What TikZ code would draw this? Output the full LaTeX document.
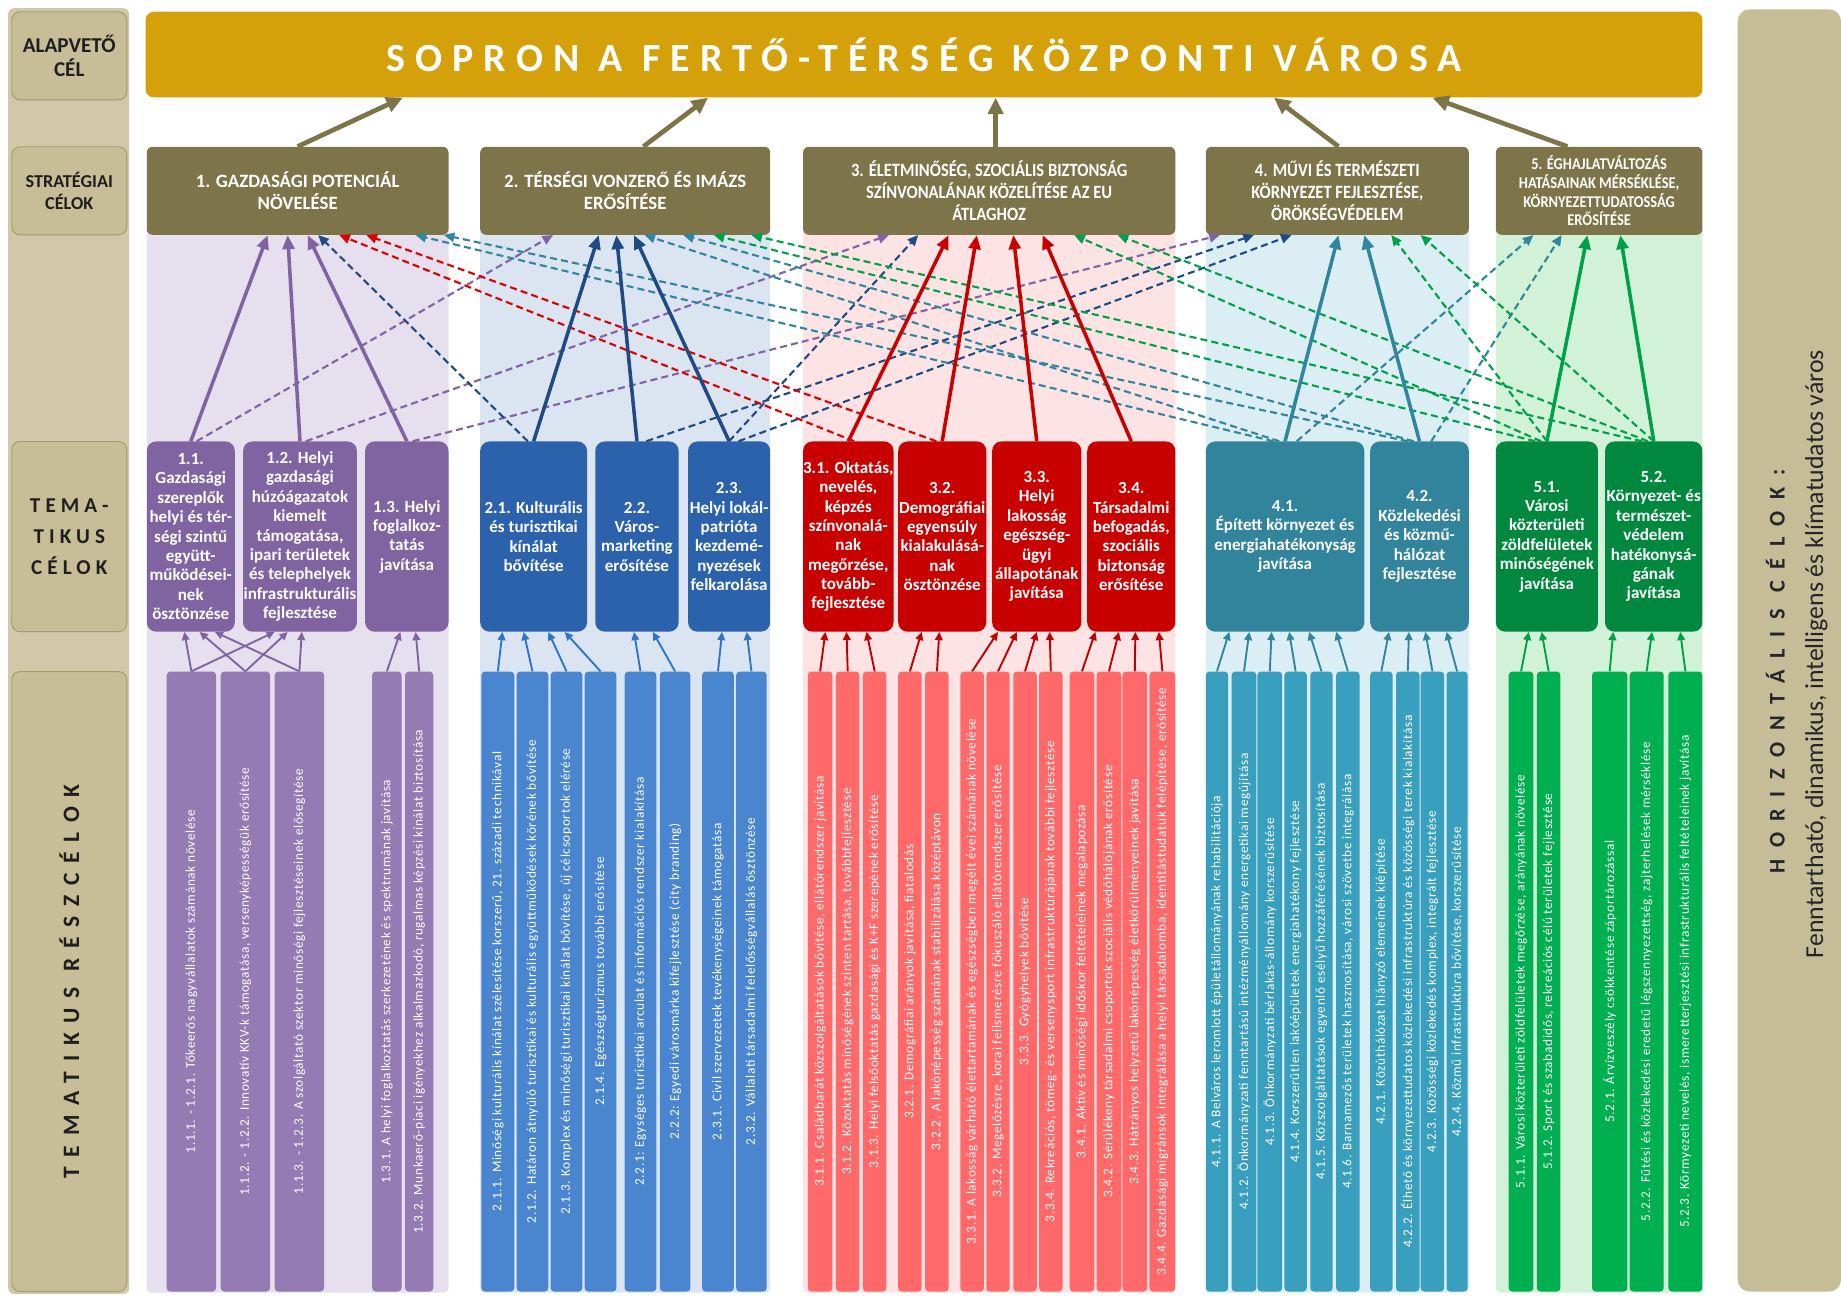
\documentclass[tikz,border=0pt]{standalone}
\usepackage{fontspec}
\usepackage{graphicx}
\setmainfont{Carlito}
\newfontfamily\condfam[FakeStretch=0.88]{Carlito}
\newfontfamily\titlefam[LetterSpace=25.5]{Carlito}
\newfontfamily\lsfam[LetterSpace=24]{Carlito}
\newfontfamily\rszfam[LetterSpace=42]{Carlito}
\newfontfamily\horfam[LetterSpace=52]{Carlito}
\newfontfamily\barfam[LetterSpace=5]{Carlito}
\usetikzlibrary{arrows.meta}

\definecolor{titlec}{HTML}{D4A10A}
\definecolor{stratc}{HTML}{7E7449}
\definecolor{stripc}{HTML}{D0C8A8}
\definecolor{lboxc}{HTML}{C7BD97}
\definecolor{lboxb}{HTML}{A59A6B}
\definecolor{rpanc}{HTML}{C5BC98}
\definecolor{cbP}{HTML}{E5DFEE}
\definecolor{cbB}{HTML}{DBE5F1}
\definecolor{cbR}{HTML}{FDE3E3}
\definecolor{cbT}{HTML}{DAEEF3}
\definecolor{cbG}{HTML}{D2F2D8}
\definecolor{thP}{HTML}{8064A2}
\definecolor{thB}{HTML}{2B62AB}
\definecolor{thR}{HTML}{C80000}
\definecolor{thT}{HTML}{31849B}
\definecolor{thG}{HTML}{00883F}
\definecolor{barP}{HTML}{957BB3}
\definecolor{barB}{HTML}{4A86CF}
\definecolor{barR}{HTML}{FF6969}
\definecolor{barT}{HTML}{38A0BE}
\definecolor{barG}{HTML}{00B050}
\definecolor{arP}{HTML}{8064A2}
\definecolor{arB}{HTML}{1F4A82}
\definecolor{arR}{HTML}{DD0000}
\definecolor{arT}{HTML}{31859C}
\definecolor{arG}{HTML}{00A04A}
\definecolor{smB}{HTML}{2E75C9}
\definecolor{smR}{HTML}{C00000}

\newsavebox\bbox
\newcommand\bartxt[1]{\sbox\bbox{\barfam\fontsize{11.3}{12}\selectfont #1}\ifdim\wd\bbox>505pt\resizebox{505pt}{!}{\usebox\bbox}\else\usebox\bbox\fi}
\newcommand\sbar[5]{\node[sbarbox,fill=#4,minimum width={#3-#2}] (#1) at ({(#2+#3)/2},836) {};
 \node[text=white,rotate=90,inner sep=0pt] at (#1.center) {\bartxt{#5}};}
\newcommand\sarr[4]{\draw[smallarr,draw=#1] (#2.north) -- ([xshift=#4pt]#3.south);}
\newcommand\barr[5]{\draw[#1] ([xshift=#3pt]#2.north) -- ([xshift=#5pt]#4.south);}

\tikzset{
  sbarbox/.style={rectangle,rounded corners=3pt,minimum height=528,inner sep=0pt},
  lbox/.style={draw=lboxb,line width=0.8pt,fill=lboxc,rounded corners=7pt,minimum width=98,align=center,text=black!88,inner sep=0pt},
  strat/.style={fill=stratc,rounded corners=5pt,text=white,align=center,minimum height=75,inner sep=0pt,font=\bfseries\fontsize{16}{19}\selectfont},
  them/.style={rounded corners=8pt,text=white,align=center,minimum height=162,inner sep=0pt,font=\bfseries\fontsize{14.5}{16.5}\selectfont},
  smallarr/.style={line width=1.6pt,-{Triangle[length=7pt,width=6.5pt]}},
  sol/.style={line width=3pt,draw=#1,-{Triangle[length=12pt,width=10pt]}},
  dsh/.style={line width=1.8pt,draw=#1,dash pattern=on 6pt off 3.5pt,-{Triangle[length=9pt,width=8pt]}},
  titlearr/.style={line width=4pt,draw=stratc,-{Triangle[length=14pt,width=13pt]}}
}

\begin{document}
\begin{tikzpicture}[x=1pt,y=-1pt]
\useasboundingbox (0,0) rectangle (1568,1103);
\fill[white] (0,0) rectangle (1568,1103);

% left strip
\fill[stripc,rounded corners=5pt] (7,7) rectangle (110,1102);
\node[lbox,minimum height=75,font=\bfseries\fontsize{18}{21}\selectfont] (LA) at (59,47.5) {ALAPVETŐ\\CÉL};
\node[lbox,minimum height=75,font=\bfseries\fontsize{15.5}{19}\selectfont] (LS) at (59,162.5) {STRATÉGIAI\\CÉLOK};
\node[lbox,minimum height=162,font=\lsfam\bfseries\fontsize{18}{26.5}\selectfont] (LT) at (59,457) {TEMA-\\TIKUS\\CÉLOK};
\node[lbox,minimum height=528] (LR) at (59,836) {};
\node[rotate=90,text=black!88,inner sep=0pt] at (LR.center) {\rszfam\bfseries\fontsize{20}{24}\selectfont TEMATIKUS RÉSZCÉLOK};

% right panel
\node[fill=rpanc,rounded corners=10pt,minimum width=88,minimum height=1092,inner sep=0pt] (HP) at (1524,554) {};
\node[rotate=90,text=black!85,inner sep=0pt] at ([xshift=-12pt,yshift=-18pt]HP.center) {\horfam\bfseries\fontsize{19}{22}\selectfont HORIZONTÁLIS CÉLOK:};
\node[rotate=90,text=black!85,inner sep=0pt] at ([xshift=23pt,yshift=-3pt]HP.center) {\fontsize{22}{26}\selectfont Fenntartható, dinamikus, intelligens és klímatudatos város};

% column backgrounds
\fill[cbP,rounded corners=4pt] (125,190) rectangle (382,1101);
\fill[cbB,rounded corners=4pt] (409,190) rectangle (656,1101);
\fill[cbR,rounded corners=4pt] (684,190) rectangle (1001,1101);
\fill[cbT,rounded corners=4pt] (1027,190) rectangle (1251,1101);
\fill[cbG,rounded corners=4pt] (1274,190) rectangle (1450,1101);

% title
\node[fill=titlec,rounded corners=7pt,minimum width=1326,minimum height=73,inner sep=0pt,text=white] (TT) at (787,46.5) {\titlefam\bfseries\fontsize{34}{40}\selectfont SOPRON A FERTŐ-TÉRSÉG KÖZPONTI VÁROSA};

% strategic goals
\node[strat,minimum width=257] (S1) at (253.5,162.5) {1. GAZDASÁGI POTENCIÁL\\NÖVELÉSE};
\node[strat,minimum width=247] (S2) at (532.5,162.5) {2. TÉRSÉGI VONZERŐ ÉS IMÁZS\\ERŐSÍTÉSE};
\node[strat,minimum width=317,font=\condfam\bfseries\fontsize{16}{19}\selectfont] (S3) at (842.5,162.5) {3. ÉLETMINŐSÉG, SZOCIÁLIS BIZTONSÁG\\SZÍNVONALÁNAK KÖZELÍTÉSE AZ EU\\ÁTLAGHOZ};
\node[strat,minimum width=224,font=\condfam\bfseries\fontsize{16}{19}\selectfont] (S4) at (1139,162.5) {4. MŰVI ÉS TERMÉSZETI\\KÖRNYEZET FEJLESZTÉSE,\\ÖRÖKSÉGVÉDELEM};
\node[strat,minimum width=176,font=\condfam\bfseries\fontsize{14}{16}\selectfont] (S5) at (1362,162.5) {5. ÉGHAJLATVÁLTOZÁS\\HATÁSAINAK MÉRSÉKLÉSE,\\KÖRNYEZETTUDATOSSÁG\\ERŐSÍTÉSE};

% thematic goals
\node[them,fill=thP,minimum width=75] (T11) at (162.5,457) {1.1.\\Gazdasági\\szereplők\\helyi és tér-\\ségi szintű\\együtt-\\működései-\\nek\\ösztönzése};
\node[them,fill=thP,minimum width=97] (T12) at (255.5,457) {1.2. Helyi\\gazdasági\\húzóágazatok\\kiemelt\\támogatása,\\ipari területek\\és telephelyek\\infrastrukturális\\fejlesztése};
\node[them,fill=thP,minimum width=71] (T13) at (346.5,457) {1.3. Helyi\\foglalkoz-\\tatás\\javítása};
\node[them,fill=thB,minimum width=91] (T21) at (454.5,457) {2.1. Kulturális\\és turisztikai\\kínálat\\bővítése};
\node[them,fill=thB,minimum width=71] (T22) at (542.5,457) {2.2.\\Város-\\marketing\\erősítése};
\node[them,fill=thB,minimum width=70] (T23) at (621,457) {2.3.\\Helyi lokál-\\patrióta\\kezdemé-\\nyezések\\felkarolása};
\node[them,fill=thR,minimum width=77] (T31) at (722.5,457) {3.1. Oktatás,\\nevelés,\\képzés\\színvonalá-\\nak\\megőrzése,\\tovább-\\fejlesztése};
\node[them,fill=thR,minimum width=75] (T32) at (802.5,457) {3.2.\\Demográfiai\\egyensúly\\kialakulásá-\\nak\\ösztönzése};
\node[them,fill=thR,minimum width=76] (T33) at (883,457) {3.3.\\Helyi\\lakosság\\egészség-\\ügyi\\állapotának\\javítása};
\node[them,fill=thR,minimum width=75] (T34) at (963.5,457) {3.4.\\Társadalmi\\befogadás,\\szociális\\biztonság\\erősítése};
\node[them,fill=thT,minimum width=135] (T41) at (1094.5,457) {4.1.\\Épített környezet és\\energiahatékonyság\\javítása};
\node[them,fill=thT,minimum width=84] (T42) at (1209,457) {4.2.\\Közlekedési\\és közmű-\\hálózat\\fejlesztése};
\node[them,fill=thG,minimum width=87] (T51) at (1317.5,457) {5.1.\\Városi\\közterületi\\zöldfelületek\\minőségének\\javítása};
\node[them,fill=thG,minimum width=83] (T52) at (1408.5,457) {5.2.\\Környezet- és\\természet-\\védelem\\hatékonysá-\\gának\\javítása};

% sub-goal bars
\sbar{b111}{142}{184}{barP}{1.1.1. - 1.2.1. Tőkeerős nagyvállalatok számának növelése}
\sbar{b112}{188}{230}{barP}{1.1.2. - 1.2.2. Innovatív KKV-k támogatása, versenyképességük erősítése}
\sbar{b113}{234}{276}{barP}{1.1.3. - 1.2.3. A szolgáltató szektor minőségi fejlesztéseinek elősegítése}
\sbar{b131}{317}{342}{barP}{1.3.1. A helyi foglalkoztatás szerkezetének és spektrumának javítása}
\sbar{b132}{345}{369}{barP}{1.3.2. Munkaerő-piaci igényekhez alkalmazkodó, rugalmas képzési kínálat biztosítása}
\sbar{b211}{410}{438}{barB}{2.1.1. Minőségi kulturális kínálat szélesítése korszerű, 21. századi technikával}
\sbar{b212}{440}{467}{barB}{2.1.2. Határon átnyúló turisztikai és kulturális együttműködések körének bővítése}
\sbar{b213}{469}{496}{barB}{2.1.3. Komplex és minőségi turisztikai kínálat bővítése, új célcsoportok elérése}
\sbar{b214}{498}{525}{barB}{2.1.4. Egészségturizmus további erősítése}
\sbar{b221}{532}{559}{barB}{2.2.1: Egységes turisztikai arculat és információs rendszer kialakítása}
\sbar{b222}{562}{588}{barB}{2.2.2: Egyedi városmárka kifejlesztése (city branding)}
\sbar{b231}{598}{625}{barB}{2.3.1. Civil szervezetek tevékenységeinek támogatása}
\sbar{b232}{627}{653}{barB}{2.3.2. Vállalati társadalmi felelősségvállalás ösztönzése}
\sbar{b311}{688}{709}{barR}{3.1.1. Családbarát közszolgáltatások bővítése, ellátórendszer javítása}
\sbar{b312}{712}{732}{barR}{3.1.2. Közoktatás minőségének szinten tartása, továbbfejlesztése}
\sbar{b313}{735}{755}{barR}{3.1.3. Helyi felsőoktatás gazdasági és K+F szerepének erősítése}
\sbar{b321}{765}{785}{barR}{3.2.1. Demográfiai arányok javítása, fiatalodás}
\sbar{b322}{788}{808}{barR}{3.2.2. A lakónépesség számának stabilizálása középtávon}
\sbar{b331}{818}{838}{barR}{3.3.1. A lakosság várható élettartamának és egészségben megélt évei számának növelése}
\sbar{b332}{840}{860}{barR}{3.3.2. Megelőzésre, korai felismerésre fókuszáló ellátórendszer erősítése}
\sbar{b333}{863}{883}{barR}{3.3.3. Gyógyhelyek bővítése}
\sbar{b334}{885}{905}{barR}{3.3.4. Rekreációs, tömeg- és versenysport infrastruktúrájának további fejlesztése}
\sbar{b341}{911}{932}{barR}{3.4.1. Aktív és minőségi időskor feltételeinek megalapozása}
\sbar{b342}{934}{955}{barR}{3.4.2. Sérülékeny társadalmi csoportok szociális védőhálójának erősítése}
\sbar{b343}{956}{977}{barR}{3.4.3. Hátrányos helyzetű lakónépesség életkörülményeinek javítása}
\sbar{b344}{979}{1001}{barR}{3.4.4. Gazdasági migránsok integrálása a helyi társadalomba, identitástudatuk felépítése, erősítése}
\sbar{b411}{1027}{1046}{barT}{4.1.1. A Belváros leromlott épületállományának rehabilitációja}
\sbar{b412}{1049}{1070}{barT}{4.1.2. Önkormányzati fenntartású intézményállomány energetikai megújítása}
\sbar{b413}{1071}{1092}{barT}{4.1.3. Önkormányzati bérlakás-állomány korszerűsítése}
\sbar{b414}{1094}{1113}{barT}{4.1.4. Korszerűtlen lakóépületek energiahatékony fejlesztése}
\sbar{b415}{1116}{1135}{barT}{4.1.5. Közszolgáltatások egyenlő esélyű hozzáférésének biztosítása}
\sbar{b416}{1138}{1158}{barT}{4.1.6. Barnamezős területek hasznosítása, városi szövetbe integrálása}
\sbar{b421}{1167}{1186}{barT}{4.2.1. Közúthálózat hiányzó elemeinek kiépítése}
\sbar{b422}{1189}{1209}{barT}{4.2.2. Élhető és környezettudatos közlekedési infrastruktúra és közösségi terek kialakítása}
\sbar{b423}{1210}{1230}{barT}{4.2.3. Közösségi közlekedés komplex, integrált fejlesztése}
\sbar{b424}{1232}{1250}{barT}{4.2.4. Közmű infrastruktúra bővítése, korszerűsítése}
\sbar{b511}{1285}{1306}{barG}{5.1.1. Városi közterületi zöldfelületek megőrzése, arányának növelése}
\sbar{b512}{1309}{1329}{barG}{5.1.2. Sport és szabadidős, rekreációs célú területek fejlesztése}
\sbar{b521}{1356}{1386}{barG}{5.2.1. Árvízveszély csökkentése záportározással}
\sbar{b522}{1388}{1417}{barG}{5.2.2. Fűtési és közlekedési eredetű légszennyezettség, zajterhelések mérséklése}
\sbar{b523}{1421}{1450}{barG}{5.2.3. Körmyezeti nevelés, ismeretterjesztési infrastrukturális feltételeinek javítása}

% small arrows bars -> thematic
\sarr{thP}{b111}{T11}{-5.5} \sarr{thP}{b111}{T12}{-21.5}
\sarr{thP}{b112}{T11}{7.5}  \sarr{thP}{b112}{T12}{-10.5}
\sarr{thP}{b113}{T11}{20.5} \sarr{thP}{b113}{T12}{1.5}
\sarr{thP}{b131}{T13}{-5.5} \sarr{thP}{b132}{T13}{7.5}
\sarr{smB}{b211}{T21}{-26.5} \sarr{smB}{b212}{T21}{-8.5} \sarr{smB}{b213}{T21}{12.5} \sarr{smB}{b214}{T21}{26.5}
\sarr{smB}{b221}{T22}{-2.5} \sarr{smB}{b222}{T22}{13.5}
\sarr{smB}{b231}{T23}{-6} \sarr{smB}{b232}{T23}{15}
\sarr{smR}{b311}{T31}{-19.5} \sarr{smR}{b312}{T31}{-1.5} \sarr{smR}{b313}{T31}{15.5}
\sarr{smR}{b321}{T32}{-17.5} \sarr{smR}{b322}{T32}{-2.5}
\sarr{smR}{b331}{T33}{-33} \sarr{smR}{b332}{T33}{-17} \sarr{smR}{b333}{T33}{0} \sarr{smR}{b334}{T33}{11}
\sarr{smR}{b341}{T34}{-30.5} \sarr{smR}{b342}{T34}{-10.5} \sarr{smR}{b343}{T34}{3.5} \sarr{smR}{b344}{T34}{23.5}
\sarr{arT}{b411}{T41}{-47.5} \sarr{arT}{b412}{T41}{-30.5} \sarr{arT}{b413}{T41}{-11.5} \sarr{arT}{b414}{T41}{3.5} \sarr{arT}{b415}{T41}{20.5} \sarr{arT}{b416}{T41}{43.5}
\sarr{arT}{b421}{T42}{-26} \sarr{arT}{b422}{T42}{-9} \sarr{arT}{b423}{T42}{5} \sarr{arT}{b424}{T42}{23}
\sarr{arG}{b511}{T51}{-15.5} \sarr{arG}{b512}{T51}{-4.5}
\sarr{arG}{b521}{T52}{-34.5} \sarr{arG}{b522}{T52}{-1.5} \sarr{arG}{b523}{T52}{22.5}

% dashed cross links
\barr{dsh=arP}{T11}{5}{S2}{-61.5}
\barr{dsh=arP}{T12}{5}{S3}{-85.5}
\barr{dsh=arP}{T13}{5}{S4}{-100}
\barr{dsh=arB}{T21}{-5}{S1}{17.5}
\barr{dsh=arB}{T23}{0}{S3}{-60.5}
\barr{dsh=arB}{T22}{8}{S4}{-71}
\barr{dsh=arB}{T23}{8}{S4}{-39}
\barr{dsh=arR}{T31}{5}{S1}{35.5}
\barr{dsh=arR}{T32}{-5}{S1}{58.5}
\barr{dsh=arT}{T41}{-10}{S1}{100.5}
\barr{dsh=arT}{T42}{-10}{S1}{124.5}
\barr{dsh=arT}{T41}{-5}{S2}{16.5}
\barr{dsh=arT}{T42}{-5}{S2}{49.5}
\barr{dsh=arT}{T41}{10}{S5}{-56}
\barr{dsh=arT}{T42}{10}{S5}{-32}
\barr{dsh=arG}{T51}{-10}{S2}{75.5}
\barr{dsh=arG}{T52}{-10}{S2}{107.5}
\barr{dsh=arG}{T51}{-5}{S3}{72.5}
\barr{dsh=arG}{T52}{-5}{S3}{109.5}
\barr{dsh=arG}{T51}{0}{S4}{46}
\barr{dsh=arG}{T52}{0}{S4}{71}

% solid own-goal arrows
\barr{sol=thP}{T11}{0}{S1}{-25.5}
\barr{sol=thP}{T12}{0}{S1}{-8.5}
\barr{sol=thP}{T13}{0}{S1}{8.5}
\barr{sol=arB}{T21}{0}{S2}{-22.5}
\barr{sol=arB}{T22}{0}{S2}{-7.5}
\barr{sol=arB}{T23}{0}{S2}{7.5}
\barr{sol=thR}{T31}{0}{S3}{-34.5}
\barr{sol=thR}{T32}{0}{S3}{-10.5}
\barr{sol=thR}{T33}{0}{S3}{20.5}
\barr{sol=thR}{T34}{0}{S3}{45.5}
\barr{sol=arT}{T41}{0}{S4}{1}
\barr{sol=arT}{T42}{0}{S4}{23}
\barr{sol=arG}{T51}{0}{S5}{-10}
\barr{sol=arG}{T52}{0}{S5}{18}

% strategic -> title
\draw[titlearr] (S1.north) -- ([xshift=-444pt]TT.south);
\draw[titlearr] ([xshift=15.5pt]S2.north) -- ([xshift=-184pt]TT.south);
\draw[titlearr] ([xshift=5.5pt]S3.north) -- ([xshift=61pt]TT.south);
\draw[titlearr] ([xshift=1pt]S4.north) -- ([xshift=298pt]TT.south);
\draw[titlearr] ([xshift=-27pt]S5.north) -- ([xshift=433pt]TT.south);
\end{tikzpicture}
\end{document}
